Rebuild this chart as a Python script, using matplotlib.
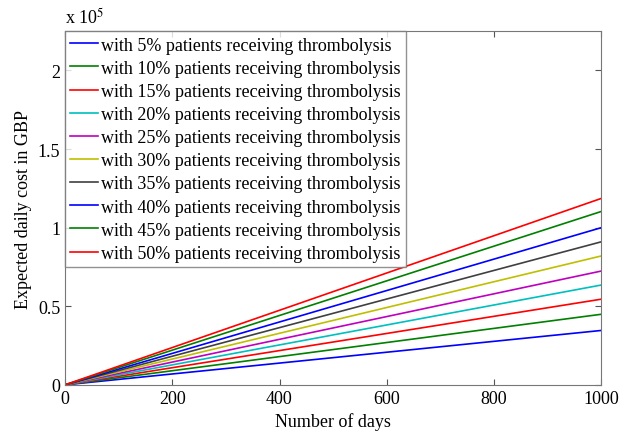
import numpy as np
import matplotlib.pyplot as plt

plt.rcParams['font.family'] = ['Liberation Serif', 'DejaVu Serif']
plt.rcParams['mathtext.fontset'] = 'stix'

# --------- dados ---------
days = [0, 1000]
shares = [5, 10, 15, 20, 25, 30, 35, 40, 45, 50]
cost_at_1000 = [0.346, 0.449, 0.545, 0.635, 0.724, 0.82, 0.91, 1.0, 1.103, 1.186]  # x 10^5 GBP
colors = ['#0000ff', '#008000', '#ff0000', '#00bfbf', '#bf00bf',
          '#bfbf00', '#404040', '#0000ff', '#008000', '#ff0000']

fig = plt.figure(figsize=(6.25, 4.35), dpi=100)
ax = fig.add_axes([0.104, 0.113, 0.858, 0.813])

for s, c, col in zip(shares, cost_at_1000, colors):
    ax.plot(days, [0, c * 1e5], color=col, lw=1.2,
            label=f"with {s}% patients receiving thrombolysis")

ax.set_xlim(0, 1000)
ax.set_ylim(0, 2.25e5)
ax.set_xticks([0, 200, 400, 600, 800, 1000])
ax.set_yticks([0, 0.5e5, 1e5, 1.5e5, 2e5])
ax.set_yticklabels(['0', '0.5', '1', '1.5', '2'])
ax.tick_params(direction='in', top=True, right=True, labelsize=13, length=4, color='#555555')
for sp in ax.spines.values():
    sp.set_color('#777777')

ax.text(0.0, 1.012, r'x 10$^{5}$', transform=ax.transAxes, fontsize=13, va='bottom', ha='left')
ax.set_xlabel('Number of days', fontsize=13)
ax.set_ylabel('Expected daily cost in GBP', fontsize=13)

leg = ax.legend(loc='upper left', fontsize=13, frameon=True, fancybox=False,
                borderaxespad=0, handlelength=1.5, handletextpad=0.2,
                labelspacing=0.34, borderpad=0.3)
leg.get_frame().set_edgecolor('#777777')
leg.get_frame().set_linewidth(1.0)

plt.savefig('out.png', dpi=100)
